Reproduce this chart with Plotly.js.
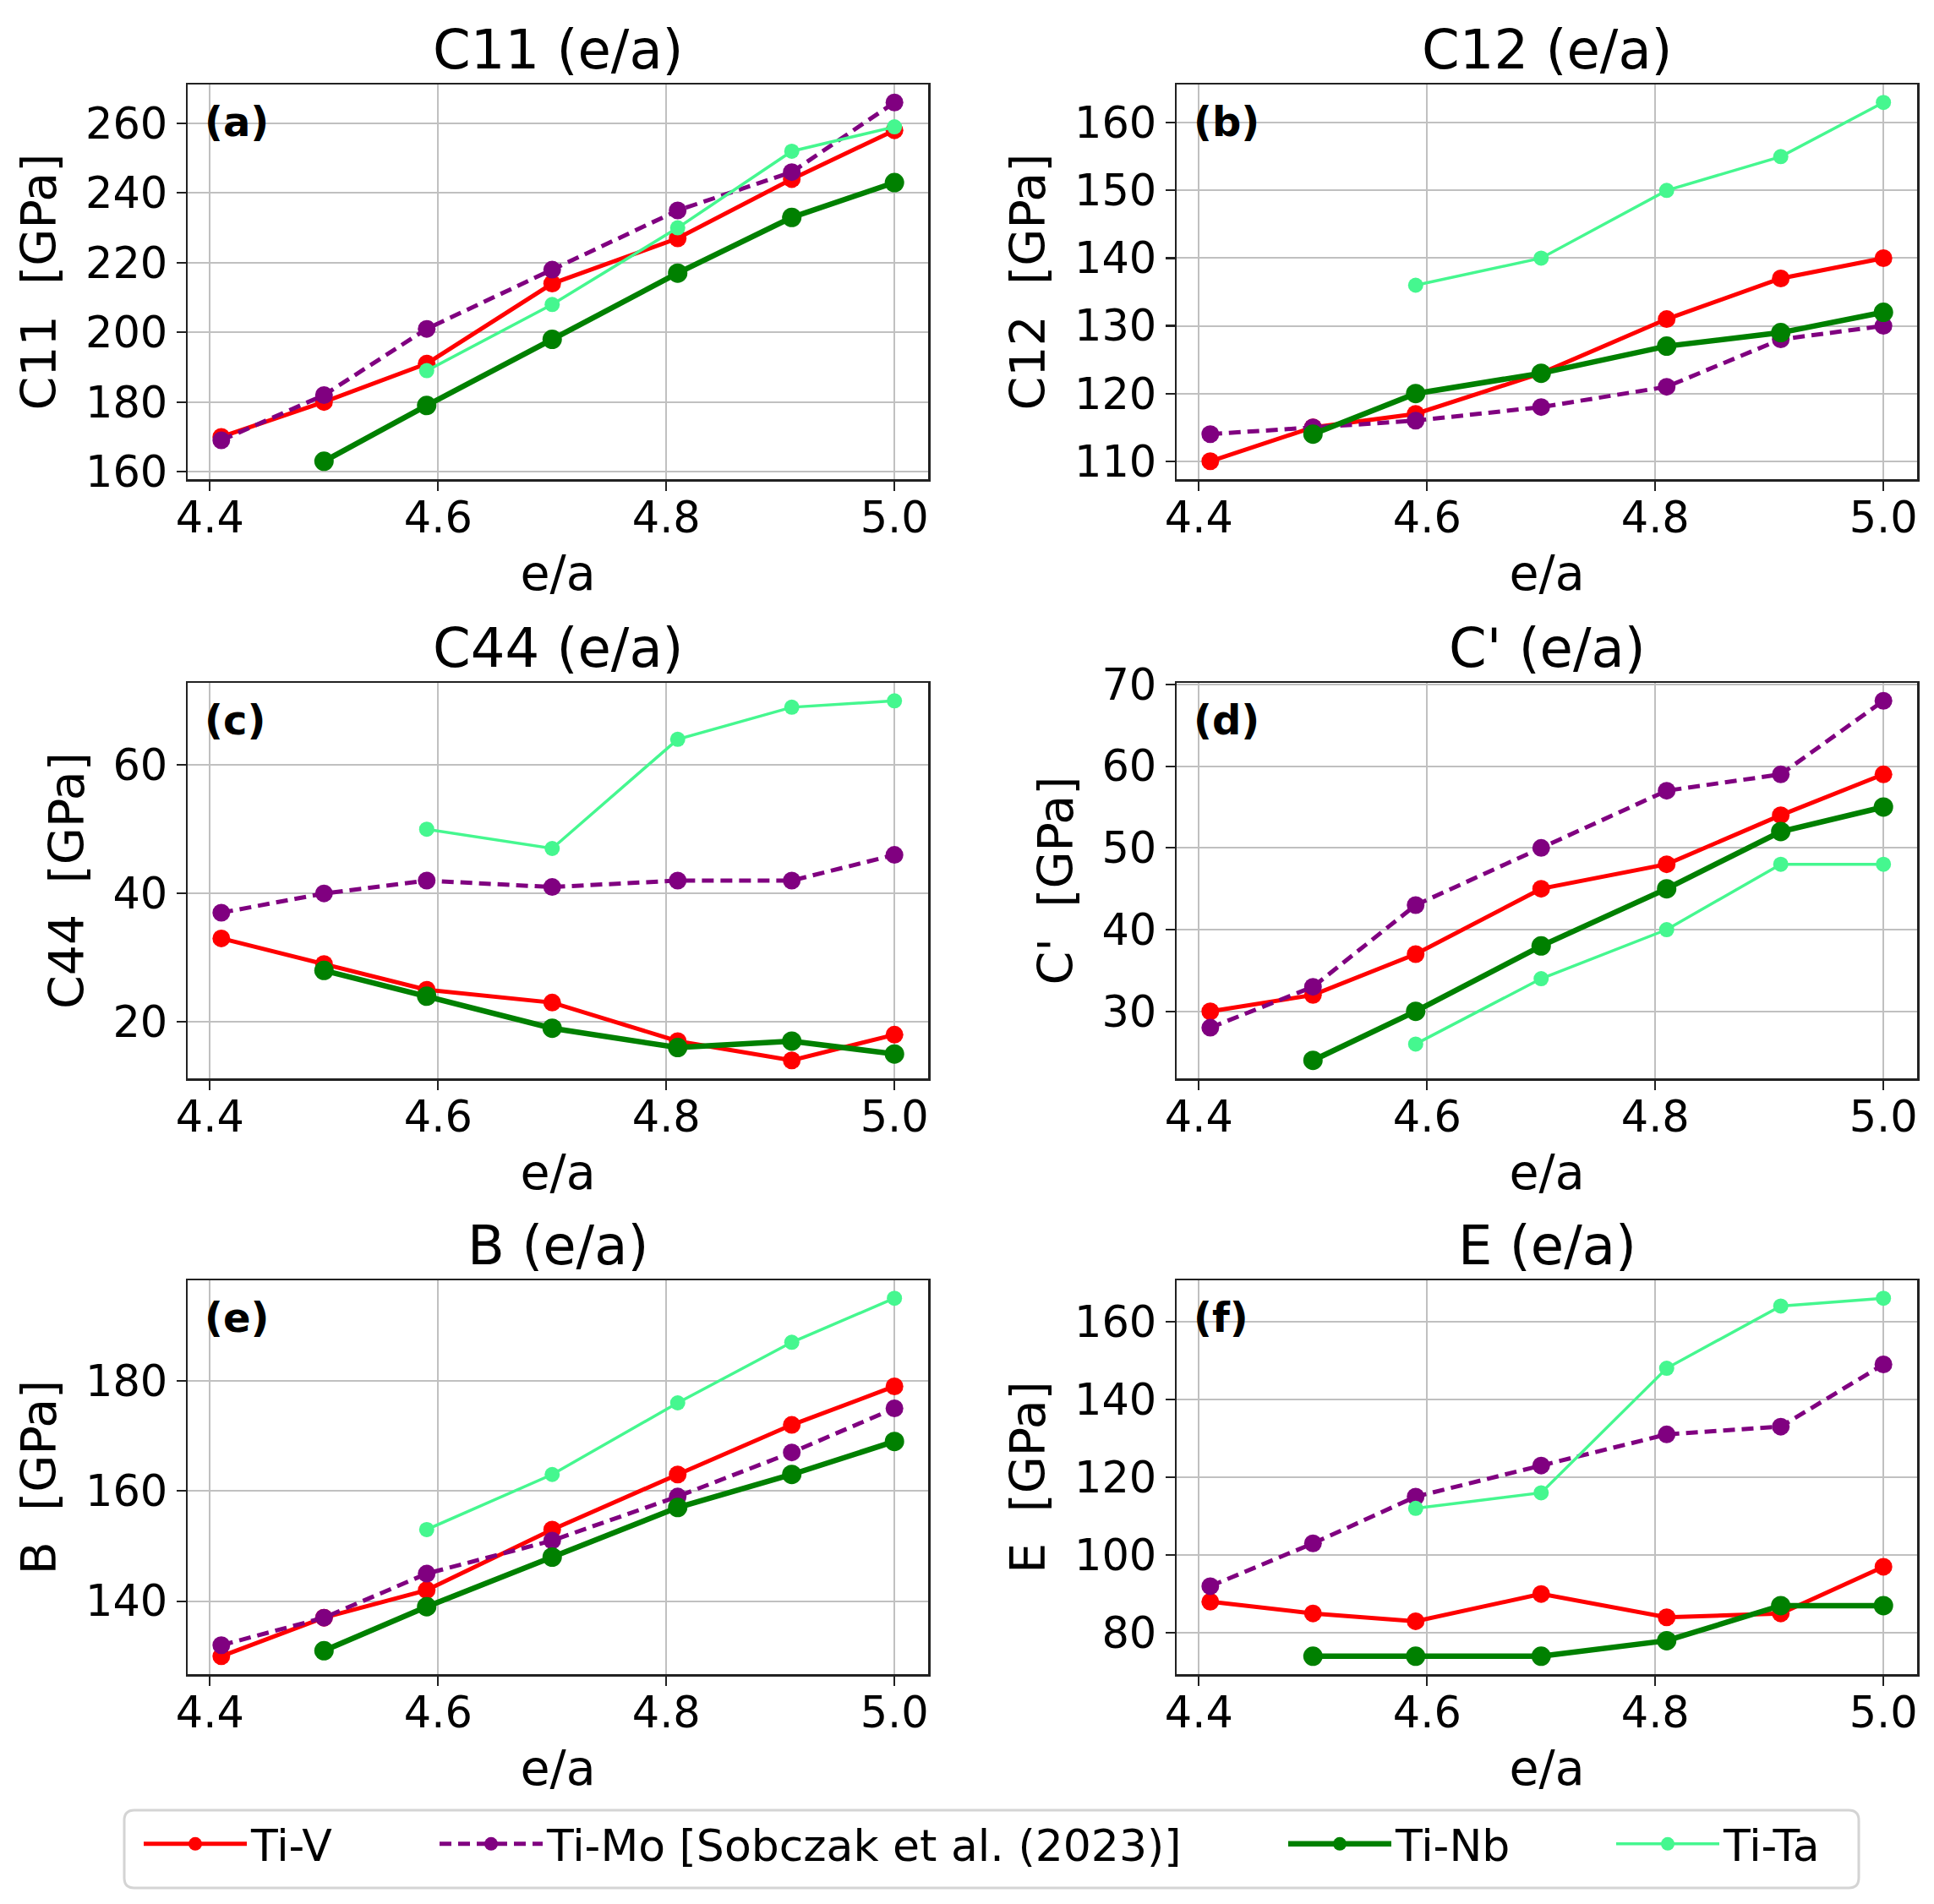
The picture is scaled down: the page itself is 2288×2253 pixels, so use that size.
<!DOCTYPE html>
<html>
<head>
<meta charset="utf-8">
<script src="https://cdn.plot.ly/plotly-3.0.1.min.js"></script>
<style>
  html, body { margin: 0; padding: 0; background: #fff; }
  #chart { width: 2288px; height: 2253px; }
</style>
</head>
<body>
<div id="chart"></div>
<script>
// e/a values (electrons per atom)
var ea   = [4.41, 4.5, 4.59, 4.7, 4.81, 4.91, 5.0];
var eaNb = [4.5, 4.59, 4.7, 4.81, 4.91, 5.0];
var eaTa = [4.59, 4.7, 4.81, 4.91, 5.0];

var seriesNames = ['Ti-V', 'Ti-Mo [Sobczak et al. (2023)]', 'Ti-Nb', 'Ti-Ta'];

// C11 [GPa]
var c11V  = [170, 180, 191, 214, 227, 244, 258];
var c11Mo = [169, 182, 201, 218, 235, 246, 266];
var c11Nb = [163, 179, 198, 217, 233, 243];
var c11Ta = [189, 208, 230, 252, 259];

// C12 [GPa]
var c12V  = [110, 115, 117, 123, 131, 137, 140];
var c12Mo = [114, 115, 116, 118, 121, 128, 130];
var c12Nb = [114, 120, 123, 127, 129, 132];
var c12Ta = [136, 140, 150, 155, 163];

// C44 [GPa]
var c44V  = [33, 29, 25, 23, 17, 14, 18];
var c44Mo = [37, 40, 42, 41, 42, 42, 46];
var c44Nb = [28, 24, 19, 16, 17, 15];
var c44Ta = [50, 47, 64, 69, 70];

// C' [GPa]
var cpV  = [30, 32, 37, 45, 48, 54, 59];
var cpMo = [28, 33, 43, 50, 57, 59, 68];
var cpNb = [24, 30, 38, 45, 52, 55];
var cpTa = [26, 34, 40, 48, 48];

// B [GPa]
var bV  = [130, 137, 142, 153, 163, 172, 179];
var bMo = [132, 137, 145, 151, 159, 167, 175];
var bNb = [131, 139, 148, 157, 163, 169];
var bTa = [153, 163, 176, 187, 195];

// E [GPa]
var eV  = [88, 85, 83, 90, 84, 85, 97];
var eMo = [92, 103, 115, 123, 131, 133, 149];
var eNb = [74, 74, 74, 78, 87, 87];
var eTa = [112, 116, 148, 164, 166];

var panelTitles = ['C11 (e/a)', 'C12 (e/a)', 'C44 (e/a)', "C' (e/a)", 'B (e/a)', 'E (e/a)'];
var panelYLabels = ['C11  [GPa]', 'C12  [GPa]', 'C44  [GPa]', "C'  [GPa]", 'B  [GPa]', 'E  [GPa]'];
var panelTags = ['(a)', '(b)', '(c)', '(d)', '(e)', '(f)'];
var panelDticks = [20, 10, 20, 10, 20, 20];
var xTicks = [4.4, 4.6, 4.8, 5.0];

var panels = [
  [c11V, c11Mo, c11Nb, c11Ta],
  [c12V, c12Mo, c12Nb, c12Ta],
  [c44V, c44Mo, c44Nb, c44Ta],
  [cpV, cpMo, cpNb, cpTa],
  [bV, bMo, bNb, bTa],
  [eV, eMo, eNb, eTa]
];
var xSets = [ea, ea, eaNb, eaTa];

// styling per series
var styles = [
  {color: '#ff0000', width: 5,   dash: 'solid',     size: 21},
  {color: '#800080', width: 5,   dash: '14px,8px',  size: 21},
  {color: '#008000', width: 6.5, dash: 'solid',     size: 23},
  {color: '#45f78f', width: 3.5, dash: 'solid',     size: 18}
];

var W = 2288, H = 2253;
function xdom(a, b) { return [a / W, b / W]; }
function ydom(top, bottom) { return [1 - bottom / H, 1 - top / H]; }
var cols = [xdom(222, 1098), xdom(1392, 2268)];
var rows = [ydom(100, 567), ydom(808, 1276), ydom(1515, 1981)];

// matplotlib-like autoscale with 5% margins
function padRange(arrs) {
  var all = [].concat.apply([], arrs);
  var lo = Math.min.apply(null, all), hi = Math.max.apply(null, all);
  var m = (hi - lo) * 0.05;
  return [lo - m, hi + m];
}

var font = 'DejaVu Sans, Liberation Sans, sans-serif';
var data = [];
var layout = {
  width: W, height: H,
  margin: {l: 0, r: 0, t: 0, b: 0},
  paper_bgcolor: '#ffffff',
  plot_bgcolor: '#ffffff',
  font: {family: font, color: '#000000', size: 51},
  showlegend: true,
  annotations: [],
  shapes: []
};

panels.forEach(function (vals, p) {
  var n = p + 1;
  var xa = 'x' + (n === 1 ? '' : n), ya = 'y' + (n === 1 ? '' : n);
  var xkey = 'xaxis' + (n === 1 ? '' : n), ykey = 'yaxis' + (n === 1 ? '' : n);
  var col = p % 2, row = Math.floor(p / 2);

  vals.forEach(function (v, s) {
    var st = styles[s];
    data.push({
      type: 'scatter', mode: 'lines+markers',
      x: xSets[s], y: v,
      xaxis: xa, yaxis: ya,
      name: seriesNames[s],
      legend: s === 0 ? 'legend' : 'legend' + (s + 1),
      showlegend: p === 0,
      line: {color: st.color, width: st.width, dash: st.dash},
      marker: {color: st.color, size: st.size},
      hoverinfo: 'x+y+name'
    });
  });

  var common = {
    showline: true, mirror: true, linecolor: '#222222', linewidth: 2.5,
    showgrid: true, gridcolor: '#c0c0c0', gridwidth: 2,
    zeroline: false,
    ticks: 'outside', ticklen: 11, tickwidth: 2.2, tickcolor: '#222222',
    tickfont: {family: font, size: 51, color: '#000'}
  };
  layout[xkey] = Object.assign({}, common, {
    domain: cols[col], anchor: ya,
    range: padRange([ea]),
    tickmode: 'array', tickvals: xTicks, ticktext: ['4.4', '4.6', '4.8', '5.0'],
    ticklabelstandoff: -12,
    title: {text: 'e/a', font: {family: font, size: 57}, standoff: 18}
  });
  layout[ykey] = Object.assign({}, common, {
    domain: rows[row], anchor: xa,
    range: padRange(vals),
    dtick: panelDticks[p], tick0: 0,
    title: {text: panelYLabels[p], font: {family: font, size: 57}, standoff: 16}
  });

  layout.annotations.push({
    xref: xa + ' domain', yref: ya + ' domain', x: 0.5, y: 1,
    xanchor: 'center', yanchor: 'bottom', yshift: 2,
    text: panelTitles[p], showarrow: false,
    font: {family: font, size: 64, color: '#000'}
  });
  layout.annotations.push({
    xref: xa + ' domain', yref: ya + ' domain', x: 0.021, y: 0.905,
    xanchor: 'left', yanchor: 'middle',
    text: '<b>' + panelTags[p] + '</b>', showarrow: false,
    font: {family: font, size: 48, color: '#000'}
  });
});

// one legend per series so each entry sits where the reference places it
var legendX = [170, 520, 1524, 1912];
legendX.forEach(function (px, i) {
  var key = i === 0 ? 'legend' : 'legend' + (i + 1);
  layout[key] = {
    x: (px - 5) / W, y: 1 - 2182 / H,
    xanchor: 'left', yanchor: 'middle',
    orientation: 'h', bgcolor: 'rgba(0,0,0,0)', borderwidth: 0,
    itemwidth: 122,
    font: {family: font, size: 52, color: '#000'}
  };
});

// legend frame (rounded)
function rpath(x0, y0, x1, y1, r) {
  function X(v) { return v / W; }
  function Y(v) { return 1 - v / H; }
  return 'M' + X(x0 + r) + ',' + Y(y0) +
    ' L' + X(x1 - r) + ',' + Y(y0) +
    ' Q' + X(x1) + ',' + Y(y0) + ' ' + X(x1) + ',' + Y(y0 + r) +
    ' L' + X(x1) + ',' + Y(y1 - r) +
    ' Q' + X(x1) + ',' + Y(y1) + ' ' + X(x1 - r) + ',' + Y(y1) +
    ' L' + X(x0 + r) + ',' + Y(y1) +
    ' Q' + X(x0) + ',' + Y(y1) + ' ' + X(x0) + ',' + Y(y1 - r) +
    ' L' + X(x0) + ',' + Y(y0 + r) +
    ' Q' + X(x0) + ',' + Y(y0) + ' ' + X(x0 + r) + ',' + Y(y0) + ' Z';
}
layout.shapes.push({
  type: 'path', xref: 'paper', yref: 'paper',
  path: rpath(147, 2142, 2199, 2234, 12),
  line: {color: '#d4d4d4', width: 3},
  fillcolor: 'rgba(255,255,255,0.8)',
  layer: 'below'
});

Plotly.newPlot('chart', data, layout, {displayModeBar: false, staticPlot: true});
</script>
</body>
</html>
